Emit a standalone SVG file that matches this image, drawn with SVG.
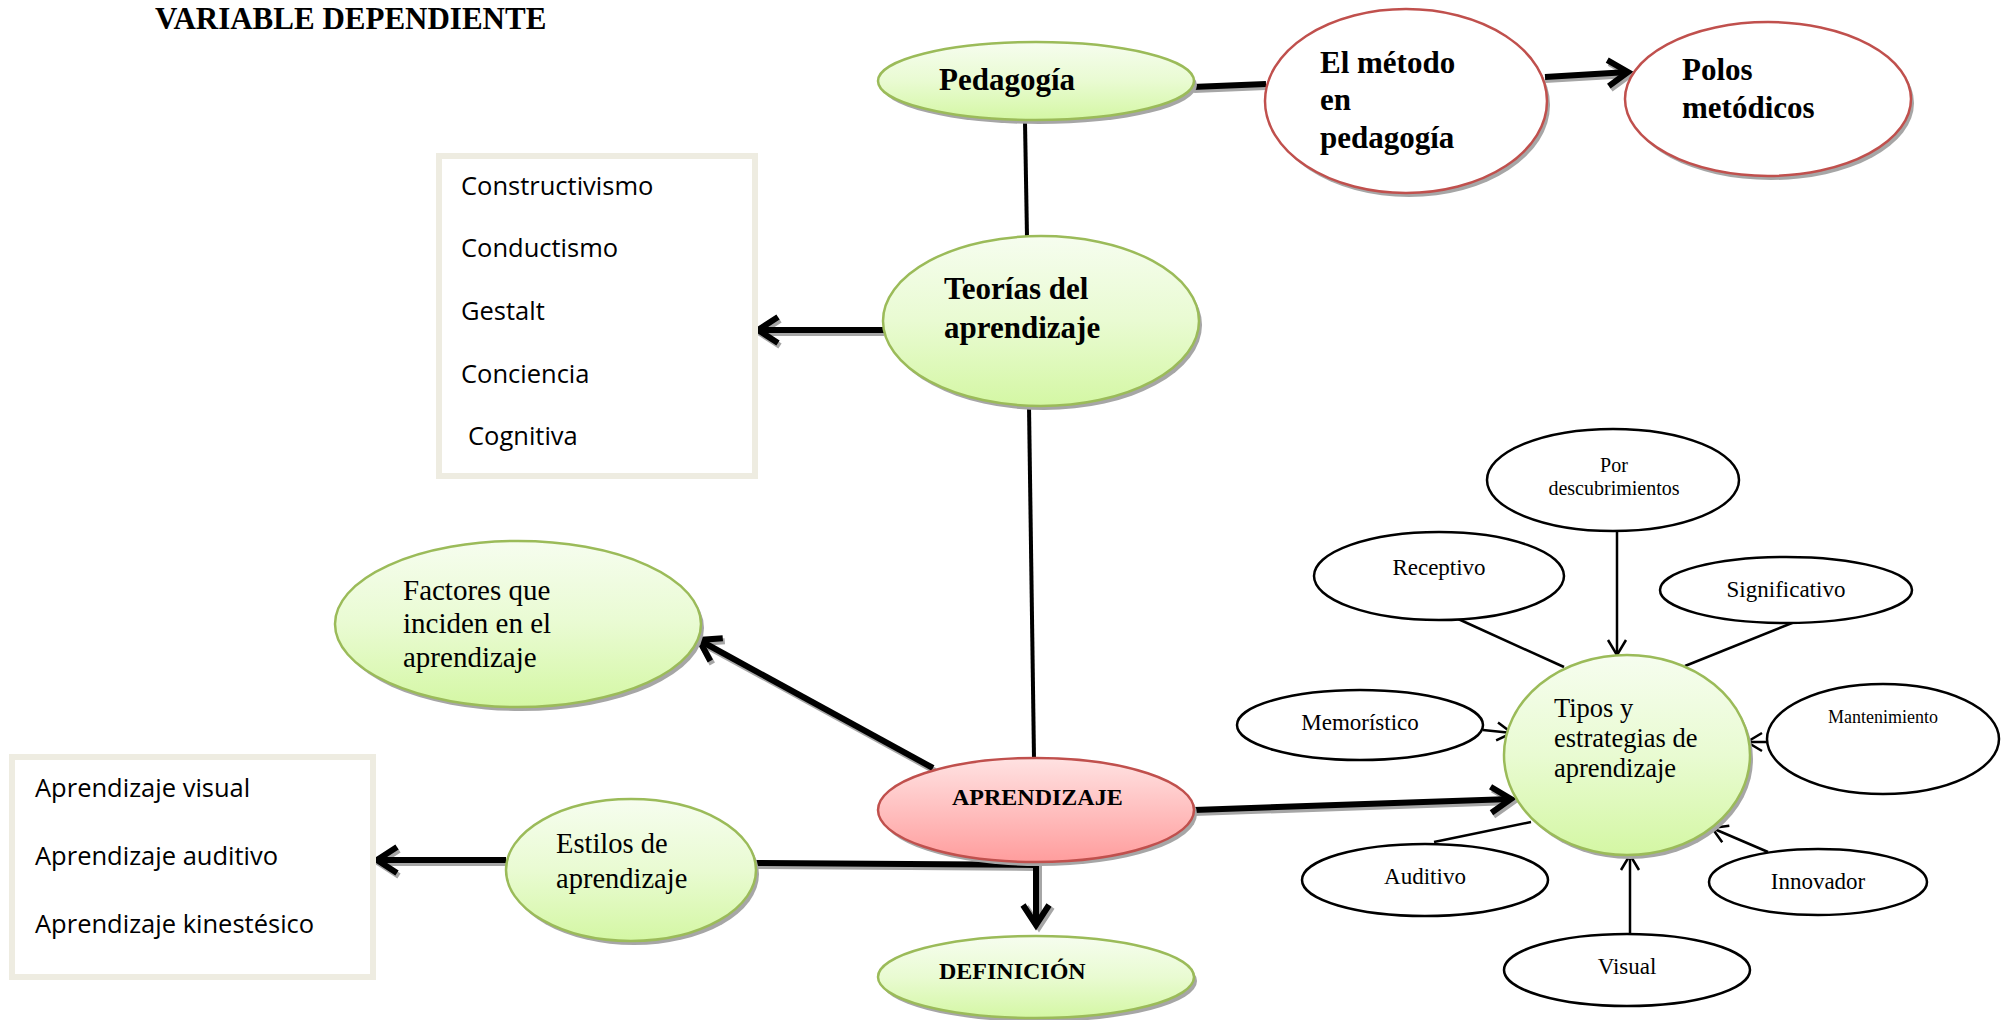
<svg xmlns="http://www.w3.org/2000/svg" width="2010" height="1020" viewBox="0 0 2010 1020">
<style>
.bg{fill:#ffffff}
.sh{fill:#a6a6a6}
.g{fill:url(#gg);stroke:#9bbb59;stroke-width:2.5}
.r{fill:url(#rg);stroke:#c0504d;stroke-width:2.5}
.rc{fill:#ffffff;stroke:#c0504d;stroke-width:2.5}
.w{fill:#ffffff;stroke:#000000;stroke-width:2.5}
.box{fill:#ffffff;stroke:#eeece1;stroke-width:6}
.tb{font-family:"Liberation Serif","Times New Roman",serif;font-weight:bold;fill:#000}
.tr{font-family:"Liberation Serif","Times New Roman",serif;fill:#000}
.ts{font-family:"Open Sans","Noto Sans",sans-serif;fill:#000;font-size:25.5px}
.k{stroke:#000;stroke-width:6;fill:none}
.ks{stroke:#a6a6a6;stroke-width:6;fill:none}
.kt{stroke:#000;stroke-width:4;fill:none}
.th{stroke:#000;stroke-width:2.5;fill:none}
</style>
<defs>
<linearGradient id="gg" x1="0" y1="0" x2="0" y2="1">
<stop offset="0" stop-color="#f6fdef"/>
<stop offset="0.5" stop-color="#e9fbd2"/>
<stop offset="1" stop-color="#d4f7a4"/>
</linearGradient>
<linearGradient id="rg" x1="0" y1="0" x2="0" y2="1">
<stop offset="0" stop-color="#ffe2e2"/>
<stop offset="1" stop-color="#ff9d9d"/>
</linearGradient>
<marker id="ah" markerUnits="userSpaceOnUse" viewBox="-30 -20 40 40" markerWidth="40" markerHeight="40" refX="0" refY="0" orient="auto" overflow="visible">
<path d="M -20 -13 L 0 0 L -20 13" fill="none" stroke="#000" stroke-width="6"/>
</marker>
<marker id="ahs" markerUnits="userSpaceOnUse" viewBox="-30 -20 40 40" markerWidth="40" markerHeight="40" refX="0" refY="0" orient="auto" overflow="visible">
<path d="M -20 -13 L 0 0 L -20 13" fill="none" stroke="#a6a6a6" stroke-width="6"/>
</marker>
<marker id="at" markerUnits="userSpaceOnUse" viewBox="-20 -15 30 30" markerWidth="30" markerHeight="30" refX="0" refY="0" orient="auto" overflow="visible">
<path d="M -15 -9 L 0 0 L -15 9" fill="none" stroke="#000" stroke-width="2.5"/>
</marker>
</defs>
<rect class="bg" x="0" y="0" width="2010" height="1020"/>
<text class="tb" x="155" y="29" font-size="31">VARIABLE DEPENDIENTE</text>

<g id="connectors">
<line class="ks" x1="1194" y1="90" x2="1266" y2="87"/>
<line class="k" x1="1192" y1="87" x2="1266" y2="84"/>
<line class="ks" x1="1545" y1="80" x2="1630" y2="75" marker-end="url(#ahs)"/>
<line class="k" x1="1545" y1="77" x2="1628" y2="72" marker-end="url(#ah)"/>
<line class="kt" x1="1025" y1="122" x2="1027" y2="237"/>
<line class="ks" x1="884" y1="333" x2="760" y2="333" marker-end="url(#ahs)"/>
<line class="k" x1="884" y1="330" x2="758" y2="330" marker-end="url(#ah)"/>
<line class="kt" x1="1029" y1="406" x2="1034" y2="758"/>
<line class="ks" x1="935" y1="771" x2="701" y2="643" marker-end="url(#ahs)"/>
<line class="k" x1="933" y1="768" x2="699" y2="640" marker-end="url(#ah)"/>
<line class="ks" x1="1194" y1="813" x2="1513" y2="802" marker-end="url(#ahs)"/>
<line class="k" x1="1194" y1="810" x2="1511" y2="799" marker-end="url(#ah)"/>
<line class="ks" x1="1036" y1="868" x2="755" y2="866"/>
<line class="k" x1="1036" y1="865" x2="755" y2="863"/>
<line class="ks" x1="506" y1="863" x2="379" y2="863" marker-end="url(#ahs)"/>
<line class="k" x1="506" y1="860" x2="377" y2="860" marker-end="url(#ah)"/>
<line class="ks" x1="1039" y1="862" x2="1039" y2="927" marker-end="url(#ahs)"/>
<line class="k" x1="1036" y1="862" x2="1036" y2="925" marker-end="url(#ah)"/>
<line class="th" x1="1617" y1="531" x2="1617" y2="655" marker-end="url(#at)"/>
<line class="th" x1="1456" y1="618" x2="1564" y2="667"/>
<line class="th" x1="1797" y1="621" x2="1685" y2="666"/>
<line class="th" x1="1483" y1="730" x2="1512" y2="733" marker-end="url(#at)"/>
<line class="th" x1="1767" y1="742" x2="1747" y2="742" marker-end="url(#at)"/>
<line class="th" x1="1434" y1="842" x2="1531" y2="822"/>
<line class="th" x1="1768" y1="852" x2="1712" y2="828" marker-end="url(#at)"/>
<line class="th" x1="1630" y1="935" x2="1630" y2="855" marker-end="url(#at)"/>
</g>

<g id="teorias-list">
<rect class="box" x="439" y="156" width="316" height="320"/>
<text class="ts" x="461" y="195">Constructivismo</text>
<text class="ts" x="461" y="257">Conductismo</text>
<text class="ts" x="461" y="320">Gestalt</text>
<text class="ts" x="461" y="383">Conciencia</text>
<text class="ts" x="468" y="445">Cognitiva</text>
</g>

<g id="estilos-list">
<rect class="box" x="12" y="757" width="361" height="220"/>
<text class="ts" x="35" y="797" font-size="26.5">Aprendizaje visual</text>
<text class="ts" x="35" y="865" font-size="26.5">Aprendizaje auditivo</text>
<text class="ts" x="35" y="933" font-size="26.5">Aprendizaje kinestésico</text>
</g>

<g id="pedagogia">
<ellipse class="sh" cx="1039" cy="85" rx="158" ry="39"/>
<ellipse class="g" cx="1036" cy="81" rx="158" ry="39"/>
<text class="tb" x="939" y="90" font-size="31">Pedagogía</text>
</g>

<g id="metodo">
<ellipse class="sh" cx="1409" cy="105" rx="141" ry="92"/>
<ellipse class="rc" cx="1406" cy="101" rx="141" ry="92"/>
<text class="tb" x="1320" y="73" font-size="31">El método</text>
<text class="tb" x="1320" y="110" font-size="31">en</text>
<text class="tb" x="1320" y="148" font-size="31">pedagogía</text>
</g>

<g id="polos">
<ellipse class="sh" cx="1771" cy="103" rx="143" ry="77"/>
<ellipse class="rc" cx="1768" cy="99" rx="143" ry="77"/>
<text class="tb" x="1682" y="80" font-size="31">Polos</text>
<text class="tb" x="1682" y="118" font-size="31">metódicos</text>
</g>

<g id="teorias">
<ellipse class="sh" cx="1044" cy="325" rx="158" ry="85"/>
<ellipse class="g" cx="1041" cy="321" rx="158" ry="85"/>
<text class="tb" x="944" y="299" font-size="31">Teorías del</text>
<text class="tb" x="944" y="338" font-size="31">aprendizaje</text>
</g>

<g id="factores">
<ellipse class="sh" cx="521" cy="628" rx="183" ry="83"/>
<ellipse class="g" cx="518" cy="624" rx="183" ry="83"/>
<text class="tr" x="403" y="600" font-size="29">Factores que</text>
<text class="tr" x="403" y="633" font-size="29">inciden en el</text>
<text class="tr" x="403" y="667" font-size="29">aprendizaje</text>
</g>

<g id="aprendizaje">
<ellipse class="sh" cx="1039" cy="814" rx="158" ry="52"/>
<ellipse class="r" cx="1036" cy="810" rx="158" ry="52"/>
<text class="tb" x="952" y="805" font-size="24">APRENDIZAJE</text>
</g>

<g id="estilos">
<ellipse class="sh" cx="634" cy="874" rx="125" ry="71"/>
<ellipse class="g" cx="631" cy="870" rx="125" ry="71"/>
<text class="tr" x="556" y="853" font-size="28.5">Estilos de</text>
<text class="tr" x="556" y="888" font-size="28.5">aprendizaje</text>
</g>

<g id="definicion">
<ellipse class="sh" cx="1039" cy="981" rx="158" ry="41"/>
<ellipse class="g" cx="1036" cy="977" rx="158" ry="41"/>
<text class="tb" x="939" y="979" font-size="24">DEFINICIÓN</text>
</g>

<g id="tipos">
<ellipse class="sh" cx="1630" cy="759" rx="123" ry="100"/>
<ellipse class="g" cx="1627" cy="755" rx="123" ry="100"/>
<text class="tr" x="1554" y="717" font-size="26.5">Tipos y</text>
<text class="tr" x="1554" y="747" font-size="26.5">estrategias de</text>
<text class="tr" x="1554" y="777" font-size="26.5">aprendizaje</text>
</g>

<g id="descubrimientos">
<ellipse class="w" cx="1613" cy="480" rx="126" ry="51"/>
<text class="tr" x="1614" y="472" font-size="20" text-anchor="middle">Por</text>
<text class="tr" x="1614" y="495" font-size="20" text-anchor="middle">descubrimientos</text>
</g>

<g id="receptivo">
<ellipse class="w" cx="1439" cy="576" rx="125" ry="44"/>
<text class="tr" x="1439" y="575" font-size="23" text-anchor="middle">Receptivo</text>
</g>

<g id="significativo">
<ellipse class="w" cx="1786" cy="590" rx="126" ry="33"/>
<text class="tr" x="1786" y="597" font-size="23" text-anchor="middle">Significativo</text>
</g>

<g id="memoristico">
<ellipse class="w" cx="1360" cy="725" rx="123" ry="35"/>
<text class="tr" x="1360" y="730" font-size="23" text-anchor="middle">Memorístico</text>
</g>

<g id="mantenimiento">
<ellipse class="w" cx="1883" cy="739" rx="116" ry="55"/>
<text class="tr" x="1883" y="723" font-size="18" text-anchor="middle">Mantenimiento</text>
</g>

<g id="auditivo">
<ellipse class="w" cx="1425" cy="880" rx="123" ry="36"/>
<text class="tr" x="1425" y="884" font-size="23" text-anchor="middle">Auditivo</text>
</g>

<g id="innovador">
<ellipse class="w" cx="1818" cy="882" rx="109" ry="33"/>
<text class="tr" x="1818" y="889" font-size="23" text-anchor="middle">Innovador</text>
</g>

<g id="visual">
<ellipse class="w" cx="1627" cy="970" rx="123" ry="36"/>
<text class="tr" x="1627" y="974" font-size="23" text-anchor="middle">Visual</text>
</g>
</svg>
